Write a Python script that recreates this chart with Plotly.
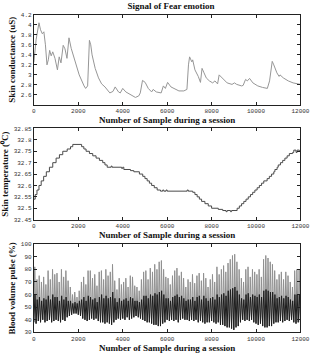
import plotly.graph_objects as go

# ---------------- data ----------------
# Skin conductance (uS)
sc_x = [0, 100, 230, 300, 380, 450, 520, 590, 650, 710, 780, 850, 950, 1060, 1140, 1220, 1320, 1400,
        1490, 1580, 1680, 1820, 2040, 2260, 2330, 2420, 2460, 2500, 2560, 2620, 2760, 2910, 3050, 3200,
        3420, 3560, 3660, 3810, 3890, 4000, 4140, 4360, 4570, 4720, 4790, 4890, 5010, 5150, 5300, 5370,
        5510, 5730, 5830, 5920, 6020, 6170, 6310, 6530, 6750, 6890, 6960, 7010, 7110, 7150, 7250, 7400,
        7500, 7570, 7660, 7760, 7900, 8050, 8150, 8270, 8340, 8480, 8700, 8920, 9030, 9130, 9350, 9420,
        9530, 9610, 9710, 9860, 10080, 10290, 10510, 10610, 10730, 10800, 10940, 11040, 11080, 11230,
        11450, 11670, 11960, 12000]
sc_y = [3.25, 3.70, 4.04, 3.90, 3.82, 3.86, 3.60, 3.20, 3.30, 3.49, 3.38, 3.46, 3.33, 3.10, 3.36, 3.24,
        3.59, 3.52, 3.33, 3.74, 3.53, 3.33, 3.00, 2.78, 2.73, 2.78, 3.10, 3.69, 3.60, 3.40, 3.13, 2.94,
        2.82, 2.76, 2.64, 2.67, 2.76, 2.66, 2.64, 2.73, 2.66, 2.61, 2.55, 2.58, 2.64, 2.89, 2.85, 2.73,
        2.66, 2.71, 2.66, 2.64, 2.78, 2.73, 2.85, 2.76, 2.73, 2.68, 2.68, 2.71, 3.20, 3.36, 3.26, 3.30,
        3.10, 2.97, 2.85, 3.13, 3.04, 2.94, 2.88, 2.84, 2.88, 2.82, 3.00, 2.94, 2.84, 2.81, 2.84, 2.81,
        2.78, 2.79, 2.91, 2.88, 2.93, 2.84, 2.78, 2.75, 2.73, 2.88, 3.27, 3.20, 3.04, 2.97, 3.00, 2.94,
        2.88, 2.84, 2.81, 2.81]

# Skin temperature (deg C), step changes
st_x = [0, 60, 140, 230, 330, 440, 560, 700, 850, 1000, 1150, 1300, 1500, 1650, 1750, 2150, 2250, 2350,
        2500, 2650, 2800, 2950, 3100, 3200, 3300, 3480, 3520, 3950, 4000, 4050, 4350, 4500, 4750, 4900,
        5000, 5100, 5200, 5300, 5420, 5550, 5700, 5800, 5850, 5950, 6000, 6900, 6950, 7150, 7250, 7350,
        7450, 7550, 7700, 7850, 8000, 8300, 8500, 8650, 8700, 8850, 8900, 9150, 9250, 9350, 9450, 9550,
        9650, 9750, 9850, 9950, 10050, 10150, 10250, 10350, 10500, 10600, 10700, 10800, 10850, 10950,
        11000, 11100, 11200, 11300, 11400, 11500, 11650, 11700, 11800, 11850, 11950, 12000]
st_y = [32.54, 32.56, 32.58, 32.60, 32.62, 32.64, 32.66, 32.68, 32.70, 32.72, 32.735, 32.75, 32.76,
        32.77, 32.78, 32.77, 32.76, 32.75, 32.74, 32.73, 32.72, 32.71, 32.70, 32.69, 32.68, 32.685,
        32.68, 32.675, 32.68, 32.67, 32.665, 32.66, 32.65, 32.64, 32.63, 32.62, 32.61, 32.60, 32.59,
        32.58, 32.575, 32.58, 32.575, 32.58, 32.575, 32.58, 32.575, 32.57, 32.56, 32.55, 32.54, 32.53,
        32.52, 32.51, 32.50, 32.495, 32.49, 32.485, 32.49, 32.485, 32.49, 32.50, 32.51, 32.52, 32.53,
        32.54, 32.55, 32.56, 32.57, 32.58, 32.59, 32.60, 32.61, 32.62, 32.63, 32.64, 32.65, 32.66,
        32.67, 32.68, 32.69, 32.70, 32.71, 32.72, 32.73, 32.74, 32.745, 32.755, 32.745, 32.755, 32.75,
        32.75]

# Blood volume pulse (%): one beat every 100 samples
bvp_beat_spacing = 100
bvp_peak = [82, 72, 75, 70, 74, 68, 79, 72, 80, 76,
            77, 70, 80, 74, 79, 71, 66, 60, 62, 58,
            63, 70, 74, 68, 79, 79, 73, 76, 67, 78,
            79, 72, 80, 75, 78, 84, 71, 64, 73, 68,
            70, 73, 66, 75, 74, 67, 66, 63, 72, 78,
            79, 72, 81, 78, 84, 80, 86, 87, 80, 74,
            73, 68, 75, 79, 81, 75, 78, 73, 66, 72,
            70, 76, 69, 75, 77, 71, 77, 73, 66, 72,
            76, 70, 82, 76, 80, 83, 78, 85, 88, 91,
            92, 86, 80, 73, 70, 80, 82, 74, 80, 78,
            76, 80, 74, 88, 91, 89, 86, 84, 79, 72,
            76, 78, 72, 78, 75, 70, 66, 79, 80, 80]
bvp_notch = [60, 56, 58, 55, 57, 56, 59, 56, 60, 58,
             58, 55, 59, 56, 58, 55, 55, 53, 54, 53,
             55, 56, 58, 55, 59, 58, 56, 57, 54, 58,
             60, 57, 59, 57, 58, 62, 57, 54, 57, 55,
             56, 57, 55, 58, 57, 55, 55, 54, 56, 59,
             59, 57, 60, 59, 61, 60, 62, 63, 60, 57,
             57, 55, 58, 59, 60, 58, 59, 57, 55, 56,
             56, 58, 55, 58, 59, 56, 59, 57, 55, 57,
             58, 56, 60, 58, 60, 61, 59, 63, 64, 65,
             66, 63, 60, 57, 56, 60, 61, 58, 60, 59,
             58, 60, 58, 63, 64, 63, 62, 62, 60, 57,
             58, 59, 57, 59, 58, 56, 55, 60, 60, 60]
bvp_trough = [38, 37, 39, 38, 40, 38, 39, 40, 38, 39,
              40, 39, 38, 40, 39, 42, 43, 44, 45, 45,
              44, 43, 41, 40, 39, 40, 41, 40, 41, 39,
              38, 38, 37, 38, 37, 36, 38, 40, 41, 40,
              41, 40, 42, 40, 41, 42, 43, 42, 41, 40,
              39, 38, 38, 37, 36, 36, 35, 35, 37, 38,
              40, 39, 40, 39, 40, 38, 40, 41, 40, 40,
              39, 40, 39, 40, 38, 39, 38, 37, 38, 38,
              39, 38, 37, 38, 36, 36, 35, 34, 34, 33,
              32, 34, 35, 38, 40, 39, 40, 39, 40, 38,
              37, 36, 37, 35, 34, 34, 35, 35, 37, 38,
              38, 39, 38, 39, 40, 39, 40, 38, 37, 38]

x_ticks = [0, 2000, 4000, 6000, 8000, 10000, 12000]
x_ticktext = ["0", "2000", "4000", "6000", "8000", "10000", "12000"]
sc_ticks = [2.6, 2.8, 3.0, 3.2, 3.4, 3.6, 3.8, 4.0, 4.2]
sc_ticktext = ["2.6", "2.8", "3", "3.2", "3.4", "3.6", "3.8", "4", "4.2"]
st_ticks = [32.45, 32.5, 32.55, 32.6, 32.65, 32.7, 32.75, 32.8, 32.85]
st_ticktext = ["32.45", "32.5", "32.55", "32.6", "32.65", "32.7", "32.75", "32.8", "32.85"]
bvp_ticks = [30, 40, 50, 60, 70, 80, 90, 100]
bvp_ticktext = ["30", "40", "50", "60", "70", "80", "90", "100"]

title_text = "Signal of Fear emotion"
x_title = "Number of Sample during a session"
y_titles = ["Skin conductance (uS)", "Skin temperature (⁰C)", "Blood volume pulse (%)"]

# ---------------- build BVP traces from beats ----------------
gx, gy, dx, dy = [], [], [], []
for i, (p, n, t) in enumerate(zip(bvp_peak, bvp_notch, bvp_trough)):
    x0 = i * bvp_beat_spacing
    gx += [x0, x0 + bvp_beat_spacing * 0.4]
    gy += [t, p]
    dx += [x0, x0 + bvp_beat_spacing * 0.5]
    dy += [t, n]
gx.append(len(bvp_peak) * bvp_beat_spacing)
gy.append(bvp_trough[-1])
dx.append(len(bvp_peak) * bvp_beat_spacing)
dy.append(bvp_trough[-1])

fig = go.Figure()
fig.add_trace(go.Scatter(x=sc_x, y=sc_y, mode="lines", line=dict(color="#969696", width=1),
                         xaxis="x", yaxis="y", showlegend=False))
fig.add_trace(go.Scatter(x=st_x, y=st_y, mode="lines", line=dict(color="#4a4a4a", width=1, shape="hv"),
                         xaxis="x2", yaxis="y2", showlegend=False))
fig.add_trace(go.Scatter(x=gx, y=gy, mode="lines", line=dict(color="#909090", width=1),
                         xaxis="x3", yaxis="y3", showlegend=False))
fig.add_trace(go.Scatter(x=dx, y=dy, mode="lines", line=dict(color="#1e1e1e", width=1),
                         xaxis="x3", yaxis="y3", showlegend=False))

W, H = 322, 355
xdom = [33 / W, 309 / W]
doms = [[1 - 104 / H, 1 - 12 / H], [1 - 221 / H, 1 - 128 / H], [1 - 336 / H, 1 - 246 / H]]

tick_font = dict(family="Liberation Mono", size=6, color="#333")
title_font = dict(family="Liberation Serif", size=9, color="#111")

common_x = dict(range=[0, 12000], tickvals=x_ticks, ticktext=x_ticktext, ticks="inside", ticklen=3,
                tickcolor="#222", showline=True, linecolor="#222", linewidth=1, mirror="ticks",
                showgrid=False, zeroline=False, tickfont=tick_font, domain=xdom,
                title=dict(text="<b>" + x_title + "</b>", font=title_font, standoff=2))
common_y = dict(ticks="inside", ticklen=3, tickcolor="#222", showline=True, linecolor="#222",
                linewidth=1, mirror="ticks", showgrid=False, zeroline=False, tickfont=tick_font)

fig.update_layout(
    width=W, height=H, margin=dict(l=0, r=0, t=0, b=0),
    paper_bgcolor="white", plot_bgcolor="white",
    xaxis=dict(anchor="y", **common_x),
    xaxis2=dict(anchor="y2", **common_x),
    xaxis3=dict(anchor="y3", **common_x),
    yaxis=dict(anchor="x", domain=doms[0], range=[2.4, 4.2], tickvals=sc_ticks, ticktext=sc_ticktext,
               title=dict(text="<b>" + y_titles[0] + "</b>", font=title_font, standoff=3), **common_y),
    yaxis2=dict(anchor="x2", domain=doms[1], range=[32.45, 32.85], tickvals=st_ticks, ticktext=st_ticktext,
                title=dict(text="<b>" + y_titles[1] + "</b>", font=title_font, standoff=3), **common_y),
    yaxis3=dict(anchor="x3", domain=doms[2], range=[30, 100], tickvals=bvp_ticks, ticktext=bvp_ticktext,
                title=dict(text="<b>" + y_titles[2] + "</b>", font=title_font, standoff=3), **common_y),
    title=dict(text="<b>" + title_text + "</b>", font=title_font, x=(xdom[0] + xdom[1]) / 2,
               xanchor="center", y=1 - 6 / H, yanchor="middle"),
)

fig.write_html("out.html")
